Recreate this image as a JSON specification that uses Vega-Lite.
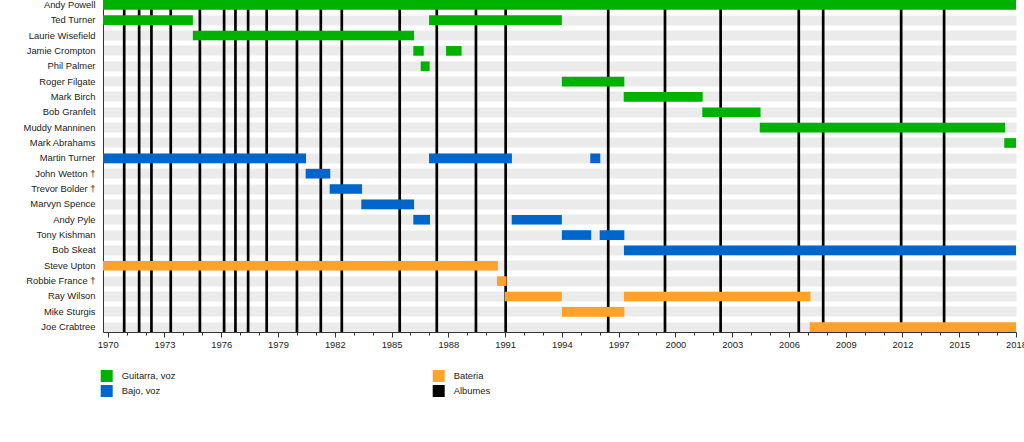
{
  "$schema": "https://vega.github.io/schema/vega-lite/v6.json",
  "width": 913,
  "height": 332,
  "autosize": {"type": "none"},
  "padding": {"left": 103, "top": 0, "right": 8, "bottom": 110},
  "background": "white",
  "config": {
    "view": {"stroke": null},
    "font": "Liberation Sans"
  },
  "datasets": {
    "periods": [
      {"member": "Andy Powell", "role": "Guitarra, voz", "start": 1969.75, "end": 2018},
      {"member": "Ted Turner", "role": "Guitarra, voz", "start": 1969.75, "end": 1974.5},
      {"member": "Ted Turner", "role": "Guitarra, voz", "start": 1986.98, "end": 1994.0},
      {"member": "Laurie Wisefield", "role": "Guitarra, voz", "start": 1974.5, "end": 1986.19},
      {"member": "Jamie Crompton", "role": "Guitarra, voz", "start": 1986.15, "end": 1986.7},
      {"member": "Jamie Crompton", "role": "Guitarra, voz", "start": 1987.88, "end": 1988.7},
      {"member": "Phil Palmer", "role": "Guitarra, voz", "start": 1986.54, "end": 1987.01},
      {"member": "Roger Filgate", "role": "Guitarra, voz", "start": 1994.0, "end": 1997.3},
      {"member": "Mark Birch", "role": "Guitarra, voz", "start": 1997.27, "end": 2001.44},
      {"member": "Bob Granfelt", "role": "Guitarra, voz", "start": 2001.42, "end": 2004.5},
      {"member": "Muddy Manninen", "role": "Guitarra, voz", "start": 2004.46, "end": 2017.42},
      {"member": "Mark Abrahams", "role": "Guitarra, voz", "start": 2017.38, "end": 2018},
      {"member": "Martin Turner", "role": "Bajo, voz", "start": 1969.75, "end": 1980.48},
      {"member": "Martin Turner", "role": "Bajo, voz", "start": 1986.98, "end": 1991.36},
      {"member": "Martin Turner", "role": "Bajo, voz", "start": 1995.5, "end": 1996.03},
      {"member": "John Wetton †", "role": "Bajo, voz", "start": 1980.46, "end": 1981.76},
      {"member": "Trevor Bolder †", "role": "Bajo, voz", "start": 1981.73, "end": 1983.44},
      {"member": "Marvyn Spence", "role": "Bajo, voz", "start": 1983.4, "end": 1986.19},
      {"member": "Andy Pyle", "role": "Bajo, voz", "start": 1986.15, "end": 1987.03},
      {"member": "Andy Pyle", "role": "Bajo, voz", "start": 1991.35, "end": 1994.0},
      {"member": "Tony Kishman", "role": "Bajo, voz", "start": 1994.0, "end": 1995.55},
      {"member": "Tony Kishman", "role": "Bajo, voz", "start": 1996.0, "end": 1997.3},
      {"member": "Bob Skeat", "role": "Bajo, voz", "start": 1997.28, "end": 2018},
      {"member": "Steve Upton", "role": "Bateria", "start": 1969.75, "end": 1990.62},
      {"member": "Robbie France †", "role": "Bateria", "start": 1990.57, "end": 1991.08},
      {"member": "Ray Wilson", "role": "Bateria", "start": 1990.98, "end": 1994.0},
      {"member": "Ray Wilson", "role": "Bateria", "start": 1997.28, "end": 2007.14},
      {"member": "Mike Sturgis", "role": "Bateria", "start": 1994.0, "end": 1997.3},
      {"member": "Joe Crabtree", "role": "Bateria", "start": 2007.1, "end": 2018}
    ],
    "albums": [
      {"start": 1970.87}, {"start": 1971.66}, {"start": 1972.31}, {"start": 1973.33},
      {"start": 1974.87}, {"start": 1976.15}, {"start": 1976.75}, {"start": 1977.42},
      {"start": 1978.4}, {"start": 1980.0}, {"start": 1981.26}, {"start": 1982.37},
      {"start": 1985.43}, {"start": 1987.39}, {"start": 1989.46}, {"start": 1991.03},
      {"start": 1996.45}, {"start": 1999.45}, {"start": 2002.39}, {"start": 2006.52},
      {"start": 2007.81}, {"start": 2011.93}, {"start": 2014.2}
    ]
  },
  "encoding": {
    "x": {
      "field": "start",
      "type": "quantitative",
      "scale": {"domain": [1969.75, 2018], "nice": false, "zero": false},
      "axis": {
        "title": null,
        "grid": false,
        "values": [1970, 1971, 1972, 1973, 1974, 1975, 1976, 1977, 1978, 1979, 1980, 1981, 1982, 1983, 1984, 1985, 1986, 1987, 1988, 1989, 1990, 1991, 1992, 1993, 1994, 1995, 1996, 1997, 1998, 1999, 2000, 2001, 2002, 2003, 2004, 2005, 2006, 2007, 2008, 2009, 2010, 2011, 2012, 2013, 2014, 2015, 2016, 2017, 2018],
        "labelExpr": "datum.value % 3 == 2 ? format(datum.value, 'd') : ''",
        "labelOverlap": false,
        "labelFlush": false,
        "labelBound": false,
        "tickSize": {"condition": {"test": "datum.value % 3 == 2", "value": 5}, "value": 3},
        "tickColor": "#333333",
        "tickWidth": 1,
        "labelPadding": 3.5,
        "labelFontSize": 9.4,
        "labelColor": "#222222",
        "labelFont": "Liberation Sans",
        "domainColor": "#333333",
        "domainWidth": 1
      }
    }
  },
  "layer": [
    {
      "data": {"name": "albums"},
      "mark": {"type": "rule", "color": "black", "strokeWidth": 2.7},
      "encoding": {}
    },
    {
      "data": {"name": "periods"},
      "mark": {"type": "bar", "cornerRadius": 0},
      "encoding": {
        "y": {
          "field": "member",
          "type": "nominal",
          "scale": {
            "domain": ["Andy Powell", "Ted Turner", "Laurie Wisefield", "Jamie Crompton", "Phil Palmer", "Roger Filgate", "Mark Birch", "Bob Granfelt", "Muddy Manninen", "Mark Abrahams", "Martin Turner", "John Wetton †", "Trevor Bolder †", "Marvyn Spence", "Andy Pyle", "Tony Kishman", "Bob Skeat", "Steve Upton", "Robbie France †", "Ray Wilson", "Mike Sturgis", "Joe Crabtree"],
            "paddingInner": 0.37,
            "paddingOuter": 0
          },
          "axis": {
            "title": null,
            "bandPosition": 0.5,
            "grid": true,
            "gridColor": "#ebebeb",
            "gridWidth": 10,
            "ticks": false,
            "labelPadding": 8,
            "labelFontSize": 9.4,
            "labelColor": "#222222",
            "labelFont": "Liberation Sans",
            "domainColor": "#333333",
            "domainWidth": 1
          }
        },
        "x2": {"field": "end"},
        "color": {
          "field": "role",
          "type": "nominal",
          "scale": {
            "domain": ["Guitarra, voz", "Bajo, voz", "Bateria", "Albumes"],
            "range": ["#00b200", "#0066cc", "#ffa22b", "#000000"]
          },
          "legend": {
            "title": null,
            "orient": "none",
            "legendX": -2.3,
            "legendY": 370,
            "columns": 2,
            "columnPadding": 257,
            "rowPadding": 3,
            "padding": 0,
            "symbolType": "square",
            "symbolSize": 144,
            "symbolStrokeWidth": 0,
            "symbolOpacity": 1,
            "labelOffset": 9,
            "labelFontSize": 9.4,
            "labelColor": "#222222",
            "labelFont": "Liberation Sans"
          }
        }
      }
    }
  ]
}
